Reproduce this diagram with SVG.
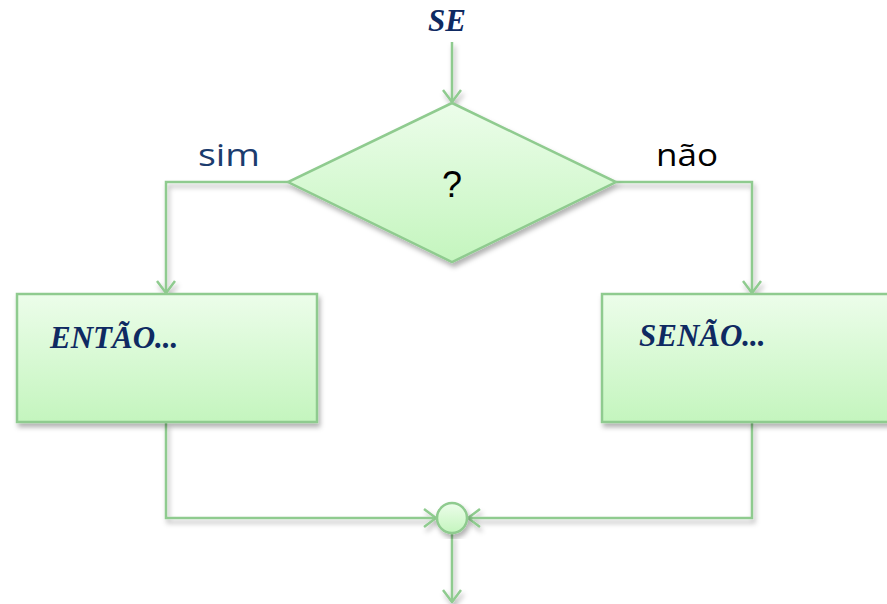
<svg xmlns="http://www.w3.org/2000/svg" width="887" height="604" viewBox="0 0 887 604">
<style>
.conn{fill:none;stroke:#8fcb8f;stroke-width:2.5;stroke-linejoin:miter}
.shape{stroke:#8fcb8f;stroke-width:2.5;fill:url(#g)}
.title{font-family:"Liberation Serif","Times New Roman",serif;font-weight:bold;font-style:italic;fill:#0f2a62}
.lbl{font-family:"Open Sans","Liberation Sans",sans-serif;font-size:31px}
</style>
<defs>
<linearGradient id="g" x1="0" y1="0" x2="0" y2="1">
<stop offset="0" stop-color="#ecfdea"/>
<stop offset="1" stop-color="#c4f5be"/>
</linearGradient>
<filter id="sh" x="-10%" y="-10%" width="130%" height="130%">
<feDropShadow dx="2" dy="4" stdDeviation="2.5" flood-color="#000" flood-opacity="0.3"/>
</filter>
<marker id="arr" viewBox="0 0 14 20" refX="13" refY="10" markerWidth="14" markerHeight="20" markerUnits="userSpaceOnUse" orient="auto">
<path d="M1,1 L13,10 L1,19" fill="none" stroke="#8fcb8f" stroke-width="2.5"/>
</marker>
</defs>
<text class="title" x="447" y="31" font-size="31" text-anchor="middle">SE</text>
<g id="connectors" filter="url(#sh)">
<path class="conn" d="M452,42 L452,102" marker-end="url(#arr)"/>
<path class="conn" d="M288,182 L166,182 L166,293" marker-end="url(#arr)"/>
<path class="conn" d="M616,182 L752,182 L752,293" marker-end="url(#arr)"/>
<path class="conn" d="M166,423 L166,518 L436,518" marker-end="url(#arr)"/>
<path class="conn" d="M752,423 L752,518 L468,518" marker-end="url(#arr)"/>
<path class="conn" d="M452,534 L452,602" marker-end="url(#arr)"/>
</g>
<g id="decision">
<polygon class="shape" filter="url(#sh)" points="452,103 616,182 452,262 288,182"/>
<text x="452" y="197" font-family="Liberation Sans,Arial,sans-serif" font-size="36" text-anchor="middle" fill="#000">?</text>
</g>
<text class="lbl" x="198" y="166" fill="#1b3c6e" textLength="62" lengthAdjust="spacingAndGlyphs">sim</text>
<text class="lbl" x="656" y="166" fill="#000" textLength="62" lengthAdjust="spacingAndGlyphs">não</text>
<g id="entao">
<rect class="shape" filter="url(#sh)" x="17" y="294" width="300" height="128"/>
<text class="title" x="50" y="348" font-size="31">ENTÃO...</text>
</g>
<g id="senao">
<rect class="shape" filter="url(#sh)" x="602" y="294" width="300" height="128"/>
<text class="title" x="639" y="346" font-size="31">SENÃO...</text>
</g>
<g id="merge">
<circle class="shape" filter="url(#sh)" cx="452" cy="518" r="15"/>
</g>
</svg>
